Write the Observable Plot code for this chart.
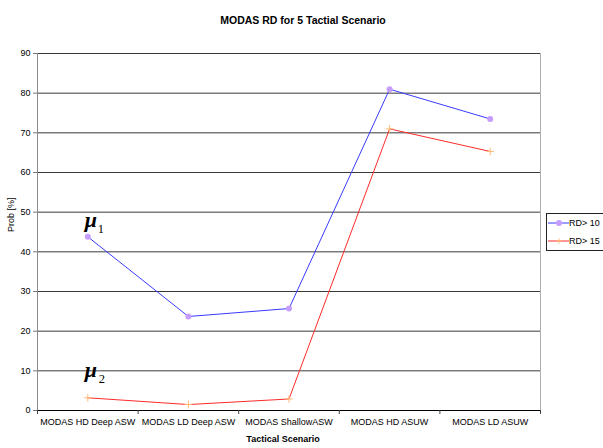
<!DOCTYPE html>
<html>
<head>
<meta charset="utf-8">
<script src="https://cdn.jsdelivr.net/npm/d3@7"></script>
<script src="https://cdn.jsdelivr.net/npm/@observablehq/plot@0.6"></script>
<style>
  html, body { margin: 0; padding: 0; background: #fff; overflow: hidden; }
  #chart { position: relative; width: 603px; height: 448px; }
  #legend {
    position: absolute; left: 546px; top: 213px; width: 62px; height: 36px;
    border: 1px solid #222; background: #fff;
    font: 9px "Liberation Sans", Arial, sans-serif; color: #000;
  }
  #legend .row { display: flex; align-items: center; height: 18px; }
  #legend svg { display: block; }
</style>
</head>
<body>
<div id="chart"></div>
<script>
// Tactical scenarios along the x axis
const categories = [
  "MODAS HD Deep ASW",
  "MODAS LD Deep ASW",
  "MODAS ShallowASW",
  "MODAS HD ASUW",
  "MODAS LD ASUW"
];
// Probability [%] for each range-dependence threshold
const rd10 = [43.8, 23.7, 25.7, 81.0, 73.5];
const rd15 = [3.2, 1.5, 2.9, 71.0, 65.3];
const seriesNames = ["RD> 10", "RD> 15"];
const yTicks = [0, 10, 20, 30, 40, 50, 60, 70, 80, 90];

const blue = "#3b3bff", red = "#ff2a2a";
const dotFill = "#c79cff", plusStroke = "#ffbb77";

// each category sits in the middle of a unit-wide slot
const rows = categories.map((c, i) => ({cat: c, pos: i + 0.5}));
const s10 = rows.map((r, i) => ({...r, v: rd10[i]}));
const s15 = rows.map((r, i) => ({...r, v: rd15[i]}));
const bounds = d3.range(categories.length + 1);

const muStyle = {fontFamily: "Liberation Serif, serif", fontStyle: "italic", fontWeight: "bold", fontSize: 22, fill: "#000"};
const subStyle = {fontFamily: "Liberation Serif, serif", fontSize: 12.5, fill: "#000"};

const plot = Plot.plot({
  width: 603,
  height: 448,
  marginLeft: 37,
  marginRight: 63,
  marginTop: 53,
  marginBottom: 38,
  x: {domain: [0, categories.length], axis: null},
  y: {domain: [0, 90], axis: null},
  style: {fontFamily: "Liberation Sans, Arial, sans-serif", fontSize: "9px", background: "#fff", color: "#000"},
  marks: [
    Plot.ruleY(yTicks, {stroke: "#3a3a3a", strokeWidth: 1}),
    Plot.ruleX([0], {stroke: "#8a8a8a"}),
    Plot.ruleX([categories.length], {stroke: "#b0b0b0"}),
    Plot.ruleY([0], {stroke: "#000"}),
    Plot.axisY({ticks: yTicks, tickSize: 4, tickPadding: 3, stroke: "#777", fill: "#000", label: null}),
    Plot.axisX({ticks: bounds, tickSize: 4, tickFormat: () => "", stroke: "#444", label: null}),
    Plot.text(rows, {x: "pos", text: "cat", frameAnchor: "bottom", dy: 14, fill: "#000"}),
    // titles
    Plot.text(["MODAS RD for 5 Tactial Scenario"], {frameAnchor: "top", dx: 14, dy: -37, fontWeight: "bold", fontSize: 10.5, fill: "#000"}),
    Plot.text(["Tactical Scenario"], {frameAnchor: "bottom", dx: -6, dy: 31, fontWeight: "bold", fontSize: 9, fill: "#000"}),
    Plot.text(["Prob [%]"], {frameAnchor: "left", dx: -26, rotate: -90, fontSize: 9, fill: "#000"}),
    // series
    Plot.line(s10, {x: "pos", y: "v", stroke: blue, strokeWidth: 1}),
    Plot.line(s15, {x: "pos", y: "v", stroke: red, strokeWidth: 1}),
    Plot.dot(s10, {x: "pos", y: "v", r: 3, fill: dotFill, stroke: "none"}),
    Plot.dot(s15, {x: "pos", y: "v", r: 2.6, symbol: "plus", stroke: plusStroke, strokeWidth: 1}),
    // mean labels next to the first scenario
    Plot.text([s10[0]], {x: "pos", y: "v", text: () => "\u03bc", dx: 3, dy: -17, ...muStyle}),
    Plot.text([s10[0]], {x: "pos", y: "v", text: () => "1", dx: 13, dy: -8, ...subStyle}),
    Plot.text([s15[0]], {x: "pos", y: "v", text: () => "\u03bc", dx: 3, dy: -28, ...muStyle}),
    Plot.text([s15[0]], {x: "pos", y: "v", text: () => "2", dx: 14, dy: -19, ...subStyle})
  ]
});

const chart = document.getElementById("chart");
chart.appendChild(plot);

// legend box
const legend = document.createElement("div");
legend.id = "legend";
const swatches = [
  {name: seriesNames[0], stroke: blue, marker: `<circle cx="12" cy="4" r="3" fill="${dotFill}"/>`},
  {name: seriesNames[1], stroke: red, marker: `<path d="M9.5,4H14.5M12,1.5V6.5" stroke="${plusStroke}"/>`}
];
legend.innerHTML = swatches.map(s => `
  <div class="row">
    <svg width="22" height="8"><line x1="1" x2="22" y1="4" y2="4" stroke="${s.stroke}"/>${s.marker}</svg>
    <span>${s.name}</span>
  </div>`).join("");
chart.appendChild(legend);
</script>
</body>
</html>
